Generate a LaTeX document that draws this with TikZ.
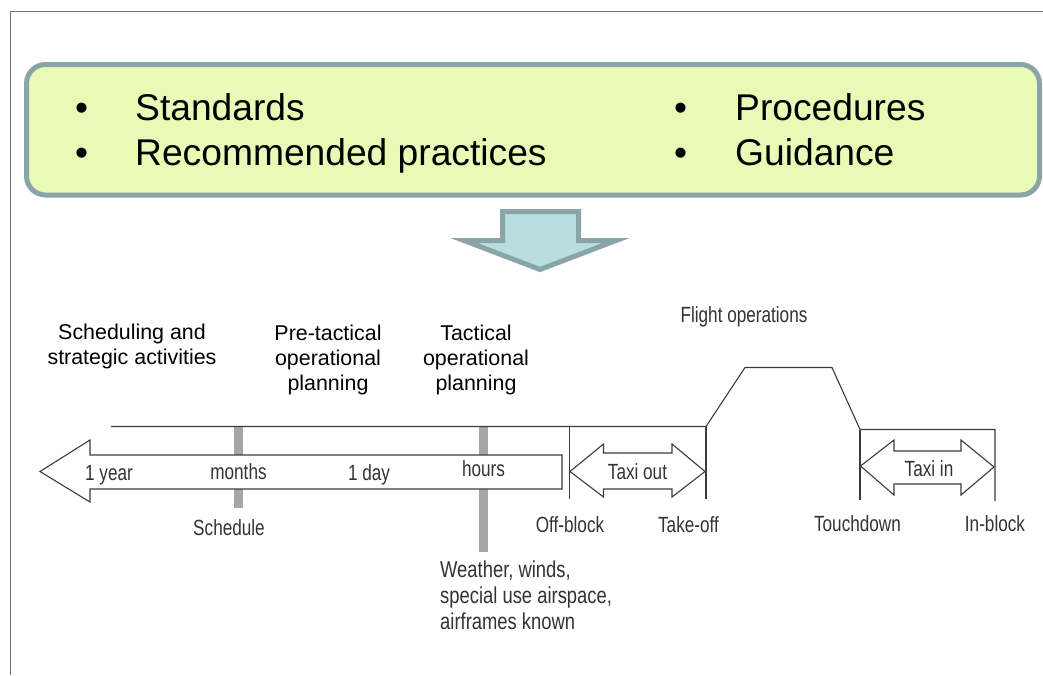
\documentclass[tikz,border=0pt]{standalone}
\usepackage{fontspec}
\setmainfont{Liberation Sans}
\newfontfamily\narrowf[FakeStretch=0.78]{Liberation Sans}
\newfontfamily\narrowg[FakeStretch=0.80]{Liberation Sans}
\definecolor{boxfill}{HTML}{E9FAB6}
\definecolor{boxline}{HTML}{8AA5A8}
\definecolor{arrfill}{HTML}{B8DEE0}
\definecolor{lineg}{HTML}{3C3C3C}
\definecolor{tickg}{HTML}{A6A6A6}
\definecolor{txtg}{HTML}{333333}
\tikzset{
  big/.style={inner sep=0pt,anchor=base west,font=\fontsize{37.2}{37.2}\selectfont,text=black},
  plain/.style={inner sep=0pt,align=center,font=\fontsize{21.4}{25}\selectfont,text=black},
  nar/.style={inner sep=0pt,anchor=base,font=\narrowf\fontsize{22}{26}\selectfont,text=txtg},
  thin line/.style={draw=lineg,line width=1.1pt},
  block/.style={draw=lineg,line width=1.1pt,fill=white,line join=miter},
  tickbar/.style={draw=tickg,line width=9pt}
}
\begin{document}
\begin{tikzpicture}[x=1pt,y=-1pt]
\useasboundingbox (0,0) rectangle (1043,675);
\fill[white] (0,0) rectangle (1043,675);
% frame
\coordinate (f1) at (10.5,675);
\coordinate (f2) at (10.5,11.5);
\coordinate (f3) at (1043,11.5);
\draw[draw=gray!90!black,line width=1.1pt] (f1) -- (f2) -- (f3);
% top box
\node[draw=boxline,fill=boxfill,line width=5pt,rounded corners=19pt,minimum width=1013pt,minimum height=130.5pt,anchor=north west,inner sep=0pt,outer sep=0pt] (box) at (26.5,64.5) {};
\node[big] (b1) at (75,120) {•};
\node[big] (t1) at (135,120) {Standards};
\node[big] (b2) at (75,165) {•};
\node[big] (t2) at (135,165) {Recommended practices};
\node[big] (b3) at (674,120) {•};
\node[big] (t3) at (735,120) {Procedures};
\node[big] (b4) at (674,165) {•};
\node[big] (t4) at (735,165) {Guidance};
% big arrow
\draw[draw=boxline,fill=arrfill,line width=5pt,miter limit=10] (502.5,211.5) -- (578.5,211.5) -- (578.5,240.5) -- (616,240.5) -- (540,269.5) -- (464,240.5) -- (502.5,240.5) -- cycle;
% ticks
\draw[tickbar] (238,427) -- (238,508);
\draw[tickbar] (483,427) -- (483,552);
% upper line and flight profile
\coordinate (l0) at (111,426.5);
\coordinate (offt) at (569.5,426.5);
\coordinate (toff) at (706,426.5);
\coordinate (c1) at (745,367.5);
\coordinate (c2) at (832,367.5);
\coordinate (tdn) at (860,429.5);
\coordinate (inb) at (995,429.5);
\coordinate (offb) at (569.5,499);
\coordinate (toffb) at (706,499);
\coordinate (tdnb) at (860,500);
\coordinate (inbb) at (995,501);
\draw[thin line] (l0) -- (toff) -- (c1) -- (c2) -- (tdn) -- (inb) -- (inbb);
\draw[thin line] (offt) -- (offb);
\draw[thin line] (toff) -- (toffb);
\draw[thin line] (tdn) -- (tdnb);
% time arrow
\draw[block] (562,455) -- (90,455) -- (90,440) -- (40,471.5) -- (90,502) -- (90,489) -- (562,489) -- cycle;
% taxi arrows
\draw[block] (570,471.5) -- (603.5,444) -- (603.5,453) -- (672,453) -- (672,444) -- (705,471.5) -- (672,497) -- (672,489) -- (603.5,489) -- (603.5,497) -- cycle;
\draw[block] (860.5,466) -- (894,440) -- (894,451) -- (961,451) -- (961,440) -- (994,467) -- (961,495) -- (961,484) -- (894,484) -- (894,495) -- cycle;
% upper text
\node[plain] (s) at (132,346.5) {Scheduling and\\strategic activities};
\node[plain] (p) at (328,359.5) {Pre-tactical\\operational\\planning};
\node[plain] (q) at (476,359.5) {Tactical\\operational\\planning};
% narrow labels
\node[nar] (fo) at (744,322) {Flight operations};
\node[nar] (y1) at (109,480) {1 year};
\node[nar] (mo) at (238.5,479) {months};
\node[nar] (d1) at (369,480) {1 day};
\node[nar] (ho) at (483.5,476) {hours};
\node[nar] (sc) at (229,535) {Schedule};
\node[nar] (of) at (570,532) {Off-block};
\node[nar] (to) at (688.5,532) {Take-off};
\node[nar] (td) at (857.5,531) {Touchdown};
\node[nar] (ib) at (995,531) {In-block};
\node[nar] (tx) at (637.5,479) {Taxi out};
\node[nar] (ti) at (929,476) {Taxi in};
\node[inner sep=0pt,anchor=north west,align=left,font=\narrowg\fontsize{23}{26}\selectfont,text=txtg] (w) at (440,560.5) {Weather, winds,\\special use airspace,\\airframes known};
\end{tikzpicture}
\end{document}
